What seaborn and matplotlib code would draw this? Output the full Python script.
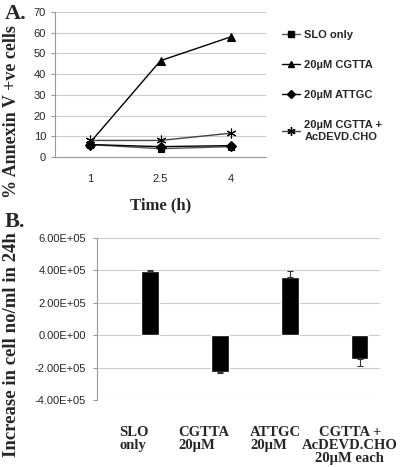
import matplotlib
matplotlib.use("Agg")
import matplotlib.pyplot as plt
import matplotlib.transforms as mtransforms
import pandas as pd
import seaborn as sns
from matplotlib.lines import Line2D

# Panel A data
times = [1, 2.5, 4]
slo_only = [6.0, 4.0, 5.0]
cgtta = [7.0, 46.5, 58.0]
attgc = [6.0, 5.0, 5.5]
cgtta_acdevd = [8.0, 8.0, 11.5]
series_names = ["SLO only", "20µM CGTTA", "20µM ATTGC", "20µM CGTTA +\nAcDEVD.CHO"]

# Panel B data
groups = ["SLO\nonly", "CGTTA\n20µM", "ATTGC\n20µM", "CGTTA +\nAcDEVD.CHO\n20µM each"]
increase = [3.95e5, -2.3e5, 3.6e5, -1.45e5]
err_low = [0.0, 0.06e5, 0.0, 0.45e5]
err_high = [0.08e5, 0.0, 0.38e5, 0.0]

sns.set_style("white")
plt.rcParams['font.family'] = ['Liberation Sans', 'DejaVu Sans']
serif = ['Liberation Serif', 'DejaVu Serif']

fig = plt.figure(figsize=(4.01, 4.67), dpi=100)

# ---------- Panel A ----------
axA = fig.add_axes([55 / 401, 1 - 157 / 467, 211 / 401, 145 / 467])
df_a = pd.DataFrame({
    'time': times * 4,
    'value': slo_only + cgtta + attgc + cgtta_acdevd,
    'group': sum([[n] * 3 for n in series_names], []),
})
styles = {
    "SLO only": dict(marker='s', color='#555555', ms=5),
    "20µM CGTTA": dict(marker='^', color='black', ms=6),
    "20µM ATTGC": dict(marker='D', color='black', ms=5.5),
    "20µM CGTTA +\nAcDEVD.CHO": dict(marker=(6, 2, 0), color='#444444', ms=7),
}
for name in series_names:
    st = styles[name]
    sub = df_a[df_a['group'] == name]
    sns.lineplot(x=sub['time'], y=sub['value'], ax=axA, color=st['color'], lw=1,
                 marker=st['marker'], markersize=st['ms'], markerfacecolor='black',
                 markeredgecolor='black', markeredgewidth=0.8)

axA.set_xlim(0.25, 4.75)
axA.set_ylim(0, 70)
axA.set_yticks(range(0, 71, 10))
axA.set_xticks(times)
axA.set_xticks([1.75, 3.25], minor=True)
axA.tick_params(axis='x', which='major', length=0, labelsize=8, pad=12)
axA.tick_params(axis='x', which='minor', length=4, color='#bbbbbb', width=0.8, direction='out')
axA.tick_params(axis='y', length=3, color='#999999', labelsize=8, left=True)
axA.set_xticklabels(['1', '2.5', '4'])
axA.yaxis.grid(True, color='#cccccc', lw=0.8)
for s in ['top', 'right']:
    axA.spines[s].set_visible(False)
axA.spines['left'].set_color('#999999')
axA.spines['bottom'].set_color('#999999')
axA.set_xlabel("Time (h)", family=serif, fontweight='bold', fontsize=12, labelpad=10)
axA.set_ylabel("")

fig.text(12 / 401, 1 - 112 / 467, "% Annexin V +ve cells", family=serif, fontweight='bold',
         fontsize=13, rotation=90, ha='center', va='center')

handles = [Line2D([0], [0], color=styles[n]['color'], lw=1, marker=styles[n]['marker'],
                  markersize=styles[n]['ms'] - 1, markerfacecolor='black',
                  markeredgecolor='black') for n in series_names]
fig.legend(handles, series_names, loc='upper left', bbox_to_anchor=(272 / 401, 1 - 20 / 467),
           frameon=False, handlelength=1.6, handletextpad=0.4, labelspacing=1.8,
           prop={'weight': 'bold', 'size': 8})

fig.text(5 / 401, 1 - 14 / 467, "A.", family=serif, fontweight='bold', fontsize=16, va='center')

# ---------- Panel B ----------
axB = fig.add_axes([97 / 401, 1 - 400 / 467, 283 / 401, 162 / 467])
df_b = pd.DataFrame({'group': groups, 'increase': increase})
sns.barplot(data=df_b, x='group', y='increase', ax=axB, color='black', width=0.25,
            saturation=1, errorbar=None)
axB.errorbar(range(len(groups)), increase, yerr=[err_low, err_high], fmt='none',
             ecolor='#333333', elinewidth=0.8, capsize=2, capthick=0.8)
axB.set_xlim(-0.76, 3.29)
axB.set_ylim(-4e5, 6e5)
yt = [-4e5, -2e5, 0, 2e5, 4e5, 6e5]
axB.set_yticks(yt)
axB.set_yticklabels([f"{v:.2E}" for v in yt])
axB.yaxis.grid(True, color='#cccccc', lw=0.8)
axB.tick_params(axis='y', length=3, color='#999999', labelsize=8, left=True, pad=5)
axB.tick_params(axis='x', length=0, pad=19)
for s in ['top', 'right', 'bottom']:
    axB.spines[s].set_visible(False)
axB.spines['left'].set_color('#999999')
axB.set_xlabel("")
axB.set_ylabel("")
labels = axB.set_xticklabels(groups, family=serif, fontweight='bold', fontsize=10.5, va='top',
                             linespacing=1.0)
shifts = [-16, -16, -14, -10]
for lab, ma, dx in zip(labels, ['left', 'left', 'left', 'center'], shifts):
    lab.set_multialignment(ma)
    lab.set_transform(lab.get_transform() + mtransforms.ScaledTranslation(dx / 100, 0, fig.dpi_scale_trans))

fig.text(12 / 401, 1 - 345 / 467, "Increase in cell no/ml in 24h", family=serif,
         fontweight='bold', fontsize=13.5, rotation=90, ha='center', va='center')
fig.text(5 / 401, 1 - 222 / 467, "B.", family=serif, fontweight='bold', fontsize=16, va='center')

fig.savefig('out.png', dpi=100)
